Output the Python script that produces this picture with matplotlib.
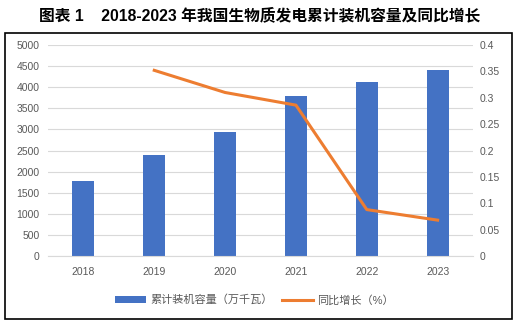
import matplotlib
matplotlib.use("Agg")
import matplotlib.pyplot as plt
from matplotlib.patches import Rectangle

plt.rcParams['font.family'] = ['Liberation Sans', 'Noto Sans CJK SC', 'DejaVu Sans']

years = ["2018", "2019", "2020", "2021", "2022", "2023"]
capacity = [1780, 2400, 2950, 3800, 4130, 4410]
growth_years = ["2019", "2020", "2021", "2022", "2023"]
growth = [0.352, 0.310, 0.286, 0.088, 0.068]

bar_color = "#4472C4"
line_color = "#ED7D31"
grid_color = "#D9D9D9"
text_color = "#595959"

fig = plt.figure(figsize=(5.19, 3.25), dpi=100)
ax = fig.add_axes([0.0925, 0.2123, 0.8189, 0.6492])

x = list(range(len(years)))
ax.bar(x, capacity, width=0.31, color=bar_color, label="累计装机容量（万千瓦）", zorder=2)
ax.set_xlim(-0.5, len(years) - 0.5)
ax.set_ylim(0, 5000)
ax.set_yticks(range(0, 5001, 500))
ax.set_xticks(x)
ax.set_xticklabels(years)
ax.grid(axis="y", color=grid_color, linewidth=0.8, zorder=0)
for s in ["top", "left", "right"]:
    ax.spines[s].set_visible(False)
ax.spines["bottom"].set_color(grid_color)
ax.tick_params(axis="both", length=0, labelsize=7.5, labelcolor=text_color)
ax.tick_params(axis="y", pad=6)
ax.tick_params(axis="x", pad=8)

ax2 = ax.twinx()
gx = [years.index(y) for y in growth_years]
ax2.plot(gx, growth, color=line_color, linewidth=2.2, label="同比增长（%）", zorder=3)
ax2.set_ylim(0, 0.4)
ax2.set_yticks([0, 0.05, 0.1, 0.15, 0.2, 0.25, 0.3, 0.35, 0.4])
ax2.set_yticklabels(["0", "0.05", "0.1", "0.15", "0.2", "0.25", "0.3", "0.35", "0.4"])
for s in ax2.spines.values():
    s.set_visible(False)
ax2.tick_params(axis="y", length=0, labelsize=7.5, labelcolor=text_color, pad=5)

h1, l1 = ax.get_legend_handles_labels()
h2, l2 = ax2.get_legend_handles_labels()
fig.legend(h1 + h2, l1 + l2, loc="center", bbox_to_anchor=(0.49, 0.077), ncol=2,
           frameon=False, fontsize=8, labelcolor=text_color,
           handlelength=2.8, handleheight=0.55, columnspacing=0.8, handletextpad=0.4)

fig.text(0.5, 0.954, "图表 1    2018-2023 年我国生物质发电累计装机容量及同比增长",
         ha="center", va="center", fontsize=11.3, fontweight="bold", color="black")

fig.patches.append(Rectangle((0.0096, 0.0185), 0.977, 0.88, transform=fig.transFigure,
                             fill=False, edgecolor="black", linewidth=1.2))

fig.savefig("out.png", dpi=100)
